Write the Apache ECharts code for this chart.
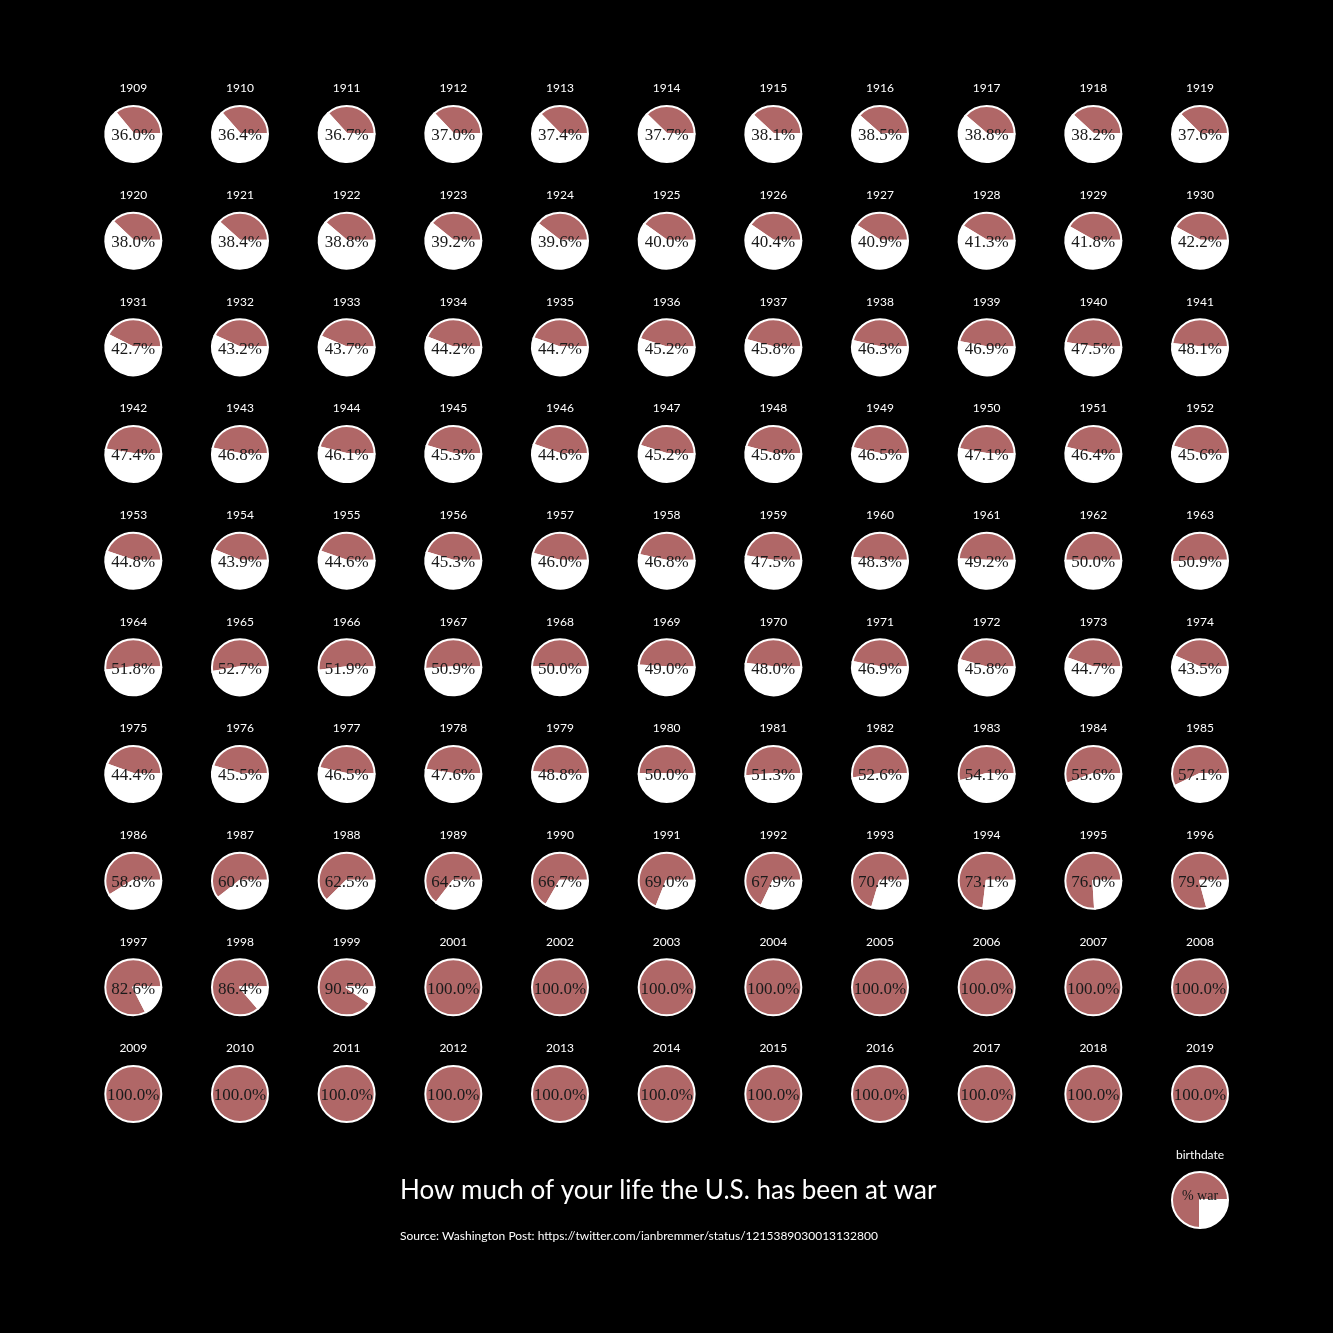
<!DOCTYPE html>
<html><head><meta charset="utf-8">
<style>html,body{margin:0;padding:0;background:#000}#c{width:1333px;height:1333px}</style>
<script src="https://cdn.jsdelivr.net/npm/echarts@6/dist/echarts.min.js"></script>
</head><body><div id="c"></div>
<script>
const years = [
  1909,1910,1911,1912,1913,1914,1915,1916,1917,1918,1919,
  1920,1921,1922,1923,1924,1925,1926,1927,1928,1929,1930,
  1931,1932,1933,1934,1935,1936,1937,1938,1939,1940,1941,
  1942,1943,1944,1945,1946,1947,1948,1949,1950,1951,1952,
  1953,1954,1955,1956,1957,1958,1959,1960,1961,1962,1963,
  1964,1965,1966,1967,1968,1969,1970,1971,1972,1973,1974,
  1975,1976,1977,1978,1979,1980,1981,1982,1983,1984,1985,
  1986,1987,1988,1989,1990,1991,1992,1993,1994,1995,1996,
  1997,1998,1999,2001,2002,2003,2004,2005,2006,2007,2008,
  2009,2010,2011,2012,2013,2014,2015,2016,2017,2018,2019
];
const warPct = [
  36.0,36.4,36.7,37.0,37.4,37.7,38.1,38.5,38.8,38.2,37.6,
  38.0,38.4,38.8,39.2,39.6,40.0,40.4,40.9,41.3,41.8,42.2,
  42.7,43.2,43.7,44.2,44.7,45.2,45.8,46.3,46.9,47.5,48.1,
  47.4,46.8,46.1,45.3,44.6,45.2,45.8,46.5,47.1,46.4,45.6,
  44.8,43.9,44.6,45.3,46.0,46.8,47.5,48.3,49.2,50.0,50.9,
  51.8,52.7,51.9,50.9,50.0,49.0,48.0,46.9,45.8,44.7,43.5,
  44.4,45.5,46.5,47.6,48.8,50.0,51.3,52.6,54.1,55.6,57.1,
  58.8,60.6,62.5,64.5,66.7,69.0,67.9,70.4,73.1,76.0,79.2,
  82.6,86.4,90.5,100.0,100.0,100.0,100.0,100.0,100.0,100.0,100.0,
  100.0,100.0,100.0,100.0,100.0,100.0,100.0,100.0,100.0,100.0,100.0
];
const legendPct = 75;
const titleText = 'How much of your life the U.S. has been at war';
const sourceText = 'Source: Washington Post: https://twitter.com/ianbremmer/status/1215389030013132800';
const legendTitle = 'birthdate';
const legendLabel = '% war';

const WAR = '#b06767', PEACE = '#ffffff';
const SANS = 'Lato, "Open Sans", sans-serif';
const SERIF = '"Liberation Serif", "DejaVu Serif", serif';
const NCOL = 11, X0 = 133.3, Y0 = 134, STEP = 106.67, R = 28;

function pieSeries(pct, cx, cy, labelText, labelSize, labelOffset) {
  const data = [{ value: pct, name: 'war', itemStyle: { color: WAR },
    label: { show: true, position: 'center', formatter: labelText, fontFamily: SERIF,
             fontSize: labelSize, color: '#1a1a1a', offset: [0, labelOffset] } }];
  if (100 - pct > 0) data.push({ value: 100 - pct, name: 'peace', itemStyle: { color: PEACE }, label: { show: false } });
  return {
    type: 'pie', center: [cx, cy], radius: [0, R], startAngle: 0, clockwise: false,
    silent: true, animation: false, labelLine: { show: false },
    itemStyle: { borderColor: '#ffffff', borderWidth: 2 },
    emphasis: { disabled: true },
    data
  };
}

const series = [];
const graphic = [];
years.forEach((yr, i) => {
  const cx = X0 + STEP * (i % NCOL), cy = Y0 + STEP * Math.floor(i / NCOL);
  series.push(pieSeries(warPct[i], cx, cy, warPct[i].toFixed(1) + '%', 17, 2));
  graphic.push({ type: 'text', x: cx, y: cy - 45.5, style: { text: String(yr), fill: '#fff',
    font: '12px ' + SANS, textAlign: 'center', textVerticalAlign: 'middle' } });
});
// legend pie
const lx = X0 + STEP * 10, ly = 1200;
series.push(pieSeries(legendPct, lx, ly, legendLabel, 14, -4));
graphic.push({ type: 'text', x: lx, y: 1155.5, style: { text: legendTitle, fill: '#fff',
  font: '12px ' + SANS, textAlign: 'center', textVerticalAlign: 'middle' } });
graphic.push({ type: 'text', x: 400, y: 1191, style: { text: titleText, fill: '#fff',
  font: '26px ' + SANS, textAlign: 'left', textVerticalAlign: 'middle' } });
graphic.push({ type: 'text', x: 400, y: 1236, style: { text: sourceText, fill: '#fff',
  font: '12px ' + SANS, textAlign: 'left', textVerticalAlign: 'middle' } });

const chart = echarts.init(document.getElementById('c'), null, { renderer: 'canvas' });
chart.setOption({ backgroundColor: '#000', animation: false, series, graphic });
</script></body></html>
